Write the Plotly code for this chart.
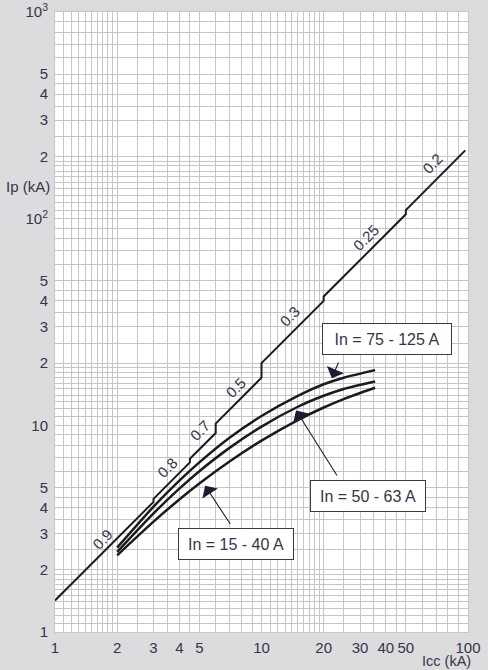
import math
import plotly.graph_objects as go

# ---- data ----
icc_main = [1, 3, 3, 4.5, 4.5, 6, 6, 10, 10, 20, 20, 50, 50, 97]
ip_main = [1.42, 4.26, 4.41, 6.62, 6.89, 9.18, 10.2, 17.0, 20.0, 40.0, 42.0, 105, 110, 214]

icc_in = [2, 3, 4, 5, 7, 10, 15, 20, 25, 35.5]
ip_in_75_125 = [2.56, 4.04, 5.40, 6.62, 8.71, 11.1, 13.9, 15.8, 17.0, 18.5]
ip_in_50_63 = [2.44, 3.75, 4.94, 6.00, 7.78, 9.86, 12.3, 13.9, 15.0, 16.3]
ip_in_15_40 = [2.35, 3.42, 4.38, 5.23, 6.68, 8.43, 10.6, 12.2, 13.4, 15.2]

cos_labels = ["0.9", "0.8", "0.7", "0.5", "0.3", "0.25", "0.2"]
cos_label_x = [1.69, 3.50, 5.04, 7.50, 13.6, 32.0, 67.2]
cos_label_y = [2.81, 6.24, 9.39, 15.3, 33.8, 81.5, 185]

x_tickvals = [1, 2, 3, 4, 5, 10, 20, 30, 40, 50, 100]
x_ticktext = ["1", "2", "3", "4", "5", "10", "20", "30", "40", "50", "100"]
y_tickvals = [1, 2, 3, 4, 5, 10, 20, 30, 40, 50, 100, 200, 300, 400, 500, 1000]
y_ticktext = ["1", "2", "3", "4", "5", "10", "2", "3", "4", "5", "10<sup>2</sup>",
              "2", "3", "4", "5", "10<sup>3</sup>"]

# grid mantissas per decade
grid_mant = [1.1, 1.2, 1.3, 1.4, 1.5, 1.6, 1.7, 1.8, 1.9, 2, 2.5, 3, 3.5, 4, 4.5, 5, 6, 7, 8, 9]

x_grid = [m * 10 ** k for k in range(2) for m in grid_mant]
y_grid = [m * 10 ** k for k in range(3) for m in grid_mant]

FONT = "Liberation Sans, Arial, sans-serif"
TXT = "#34354a"
LINE = "#1b1b1e"
GRID = "#c6c6c9"
BG = "#dcdcde"

W, H = 488, 670
ML, MR, MT, MB = 55, 20, 12, 38

fig = go.Figure()
fig.add_trace(go.Scatter(x=icc_main, y=ip_main, mode="lines",
                         line=dict(color=LINE, width=2), hoverinfo="skip"))
for ys in (ip_in_75_125, ip_in_50_63, ip_in_15_40):
    fig.add_trace(go.Scatter(x=icc_in, y=ys, mode="lines",
                             line=dict(color=LINE, width=2.5, shape="spline", smoothing=0.8),
                             hoverinfo="skip"))

ann = []
for t, xx, yy in zip(cos_labels, cos_label_x, cos_label_y):
    ann.append(dict(x=math.log10(xx), y=math.log10(yy), xref="x", yref="y", text=t,
                    showarrow=False, textangle=-45,
                    font=dict(family=FONT, size=15, color=TXT)))

boxes = [
    ("In = 75 - 125 A", 40.7, 26.2, 118, (24.4, 21.8), (21.9, 16.9)),
    ("In = 50 - 63 A", 32.9, 4.54, 104, (24.0, 5.42), (14.7, 11.8)),
    ("In = 15 - 40 A", 7.55, 2.66, 104, (7.30, 3.165), (5.33, 5.10)),
]
for text, bx, by, w, tail, head in boxes:
    ann.append(dict(x=math.log10(head[0]), y=math.log10(head[1]), xref="x", yref="y",
                    ax=math.log10(tail[0]), ay=math.log10(tail[1]), axref="x", ayref="y",
                    text=" ", showarrow=True, arrowhead=1, arrowsize=2.8, arrowwidth=1.1,
                    arrowcolor="#1a1d33", standoff=0, startstandoff=0))
    ann.append(dict(x=math.log10(bx), y=math.log10(by), xref="x", yref="y", text=text,
                    showarrow=False, bgcolor="white", bordercolor="#3a3a3e", borderwidth=1,
                    borderpad=5, width=w, height=20,
                    font=dict(family=FONT, size=16, color=TXT)))

def paper_xy(px, py):
    return (px - ML) / (W - ML - MR), 1 - (py - MT) / (H - MT - MB)

x0, y0 = paper_xy(28, 187)
ann.append(dict(x=x0, y=y0, xref="paper", yref="paper", text="Ip (kA)", showarrow=False,
                xanchor="center", yanchor="middle",
                font=dict(family=FONT, size=15, color=TXT)))
x0, y0 = paper_xy(446, 670)
ann.append(dict(x=x0, y=y0, xref="paper", yref="paper", text="Icc (kA)", showarrow=False,
                xanchor="center", yanchor="bottom", borderpad=0,
                font=dict(family=FONT, size=14.5, color=TXT)))

axis_common = dict(type="log", showgrid=True, gridcolor=GRID, gridwidth=1,
                   showline=True, linecolor=GRID, linewidth=1, mirror=True,
                   tickcolor="rgba(0,0,0,0)", ticks="outside", automargin=False,
                   zeroline=False, fixedrange=True,
                   tickfont=dict(family=FONT, size=15, color=TXT))

fig.update_layout(
    width=W, height=H,
    margin=dict(l=ML, r=MR, t=MT, b=MB, autoexpand=False),
    paper_bgcolor=BG, plot_bgcolor="white",
    showlegend=False,
    annotations=ann,
    xaxis=dict(range=[0, 2], tickmode="array", tickvals=x_tickvals, ticktext=x_ticktext,
               minor=dict(tickmode="array", tickvals=x_grid, showgrid=True,
                          gridcolor=GRID, gridwidth=1, ticks=""),
               ticklen=2, **axis_common),
    yaxis=dict(range=[0, 3], tickmode="array", tickvals=y_tickvals, ticktext=y_ticktext,
               minor=dict(tickmode="array", tickvals=y_grid, showgrid=True,
                          gridcolor=GRID, gridwidth=1, ticks=""),
               ticklen=3, **axis_common),
)

fig.write_html(
    "out.html",
    config={"displayModeBar": False, "staticPlot": True},
    post_script=(
        "document.body.style.margin='0';"
        "document.body.style.padding='0';"
        "document.body.style.background='" + BG + "';"
        "document.body.style.overflow='hidden';"
    ),
)
